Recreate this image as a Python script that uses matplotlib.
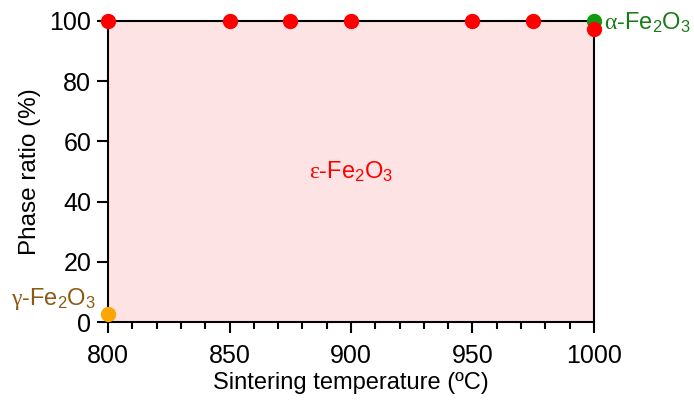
import matplotlib
matplotlib.use("Agg")
import matplotlib.pyplot as plt
from matplotlib.ticker import MultipleLocator

plt.rcParams['font.family'] = ['Liberation Sans', 'DejaVu Sans']
plt.rcParams['mathtext.fontset'] = 'custom'
plt.rcParams['mathtext.rm'] = 'Liberation Sans'
plt.rcParams['mathtext.it'] = 'Liberation Serif'

# data
eps_temps = [800, 850, 875, 900, 950, 975, 1000]
eps_ratio = [100, 100, 100, 100, 100, 100, 97.3]
gamma_temps = [800]
gamma_ratio = [2.6]
alpha_temps = [1000]
alpha_ratio = [100]

fig = plt.figure(figsize=(6.94, 4.01), dpi=100)
ax = fig.add_axes([108 / 694, 79 / 401, 486 / 694, 301 / 401])
ax.set_facecolor('#fde3e3')

ax.plot(alpha_temps, alpha_ratio, 'o', color='#119911', ms=10, clip_on=False, zorder=5)
ax.plot(eps_temps, eps_ratio, 'o', color='#ff0000', ms=10, clip_on=False, zorder=6)
ax.plot(gamma_temps, gamma_ratio, 'o', color='#ffa500', ms=10, clip_on=False, zorder=6)

ax.set_xlim(800, 1000)
ax.set_ylim(0, 100)
ax.xaxis.set_major_locator(MultipleLocator(50))
ax.xaxis.set_minor_locator(MultipleLocator(10))
ax.yaxis.set_major_locator(MultipleLocator(20))
ax.tick_params(axis='both', which='major', direction='out', length=8, width=1.5,
               labelsize=18, color='black')
ax.tick_params(axis='x', which='minor', direction='out', length=5, width=1.5)
ax.tick_params(axis='x', which='major', pad=8)
ax.tick_params(axis='y', which='major', pad=4)
for s in ax.spines.values():
    s.set_linewidth(1.5)
    s.set_color('black')

ax.set_xlabel('Sintering temperature (\u00baC)', fontsize=17, labelpad=3)
ax.set_ylabel('Phase ratio (%)', fontsize=17.5, labelpad=6)

ax.text(900, 50, r'$\varepsilon$-Fe$_\mathrm{2}$O$_\mathrm{3}$', color='#ff0000',
        fontsize=17, ha='center', va='center')
ax.text(1004, 99.5, r'$\alpha$-Fe$_\mathrm{2}$O$_\mathrm{3}$', color='#1a7a1a',
        fontsize=17, ha='left', va='center', clip_on=False)
ax.text(795, 7.5, r'$\gamma$-Fe$_\mathrm{2}$O$_\mathrm{3}$', color='#8a5a14',
        fontsize=17, ha='right', va='center', clip_on=False)

fig.savefig('out.png', dpi=100)
